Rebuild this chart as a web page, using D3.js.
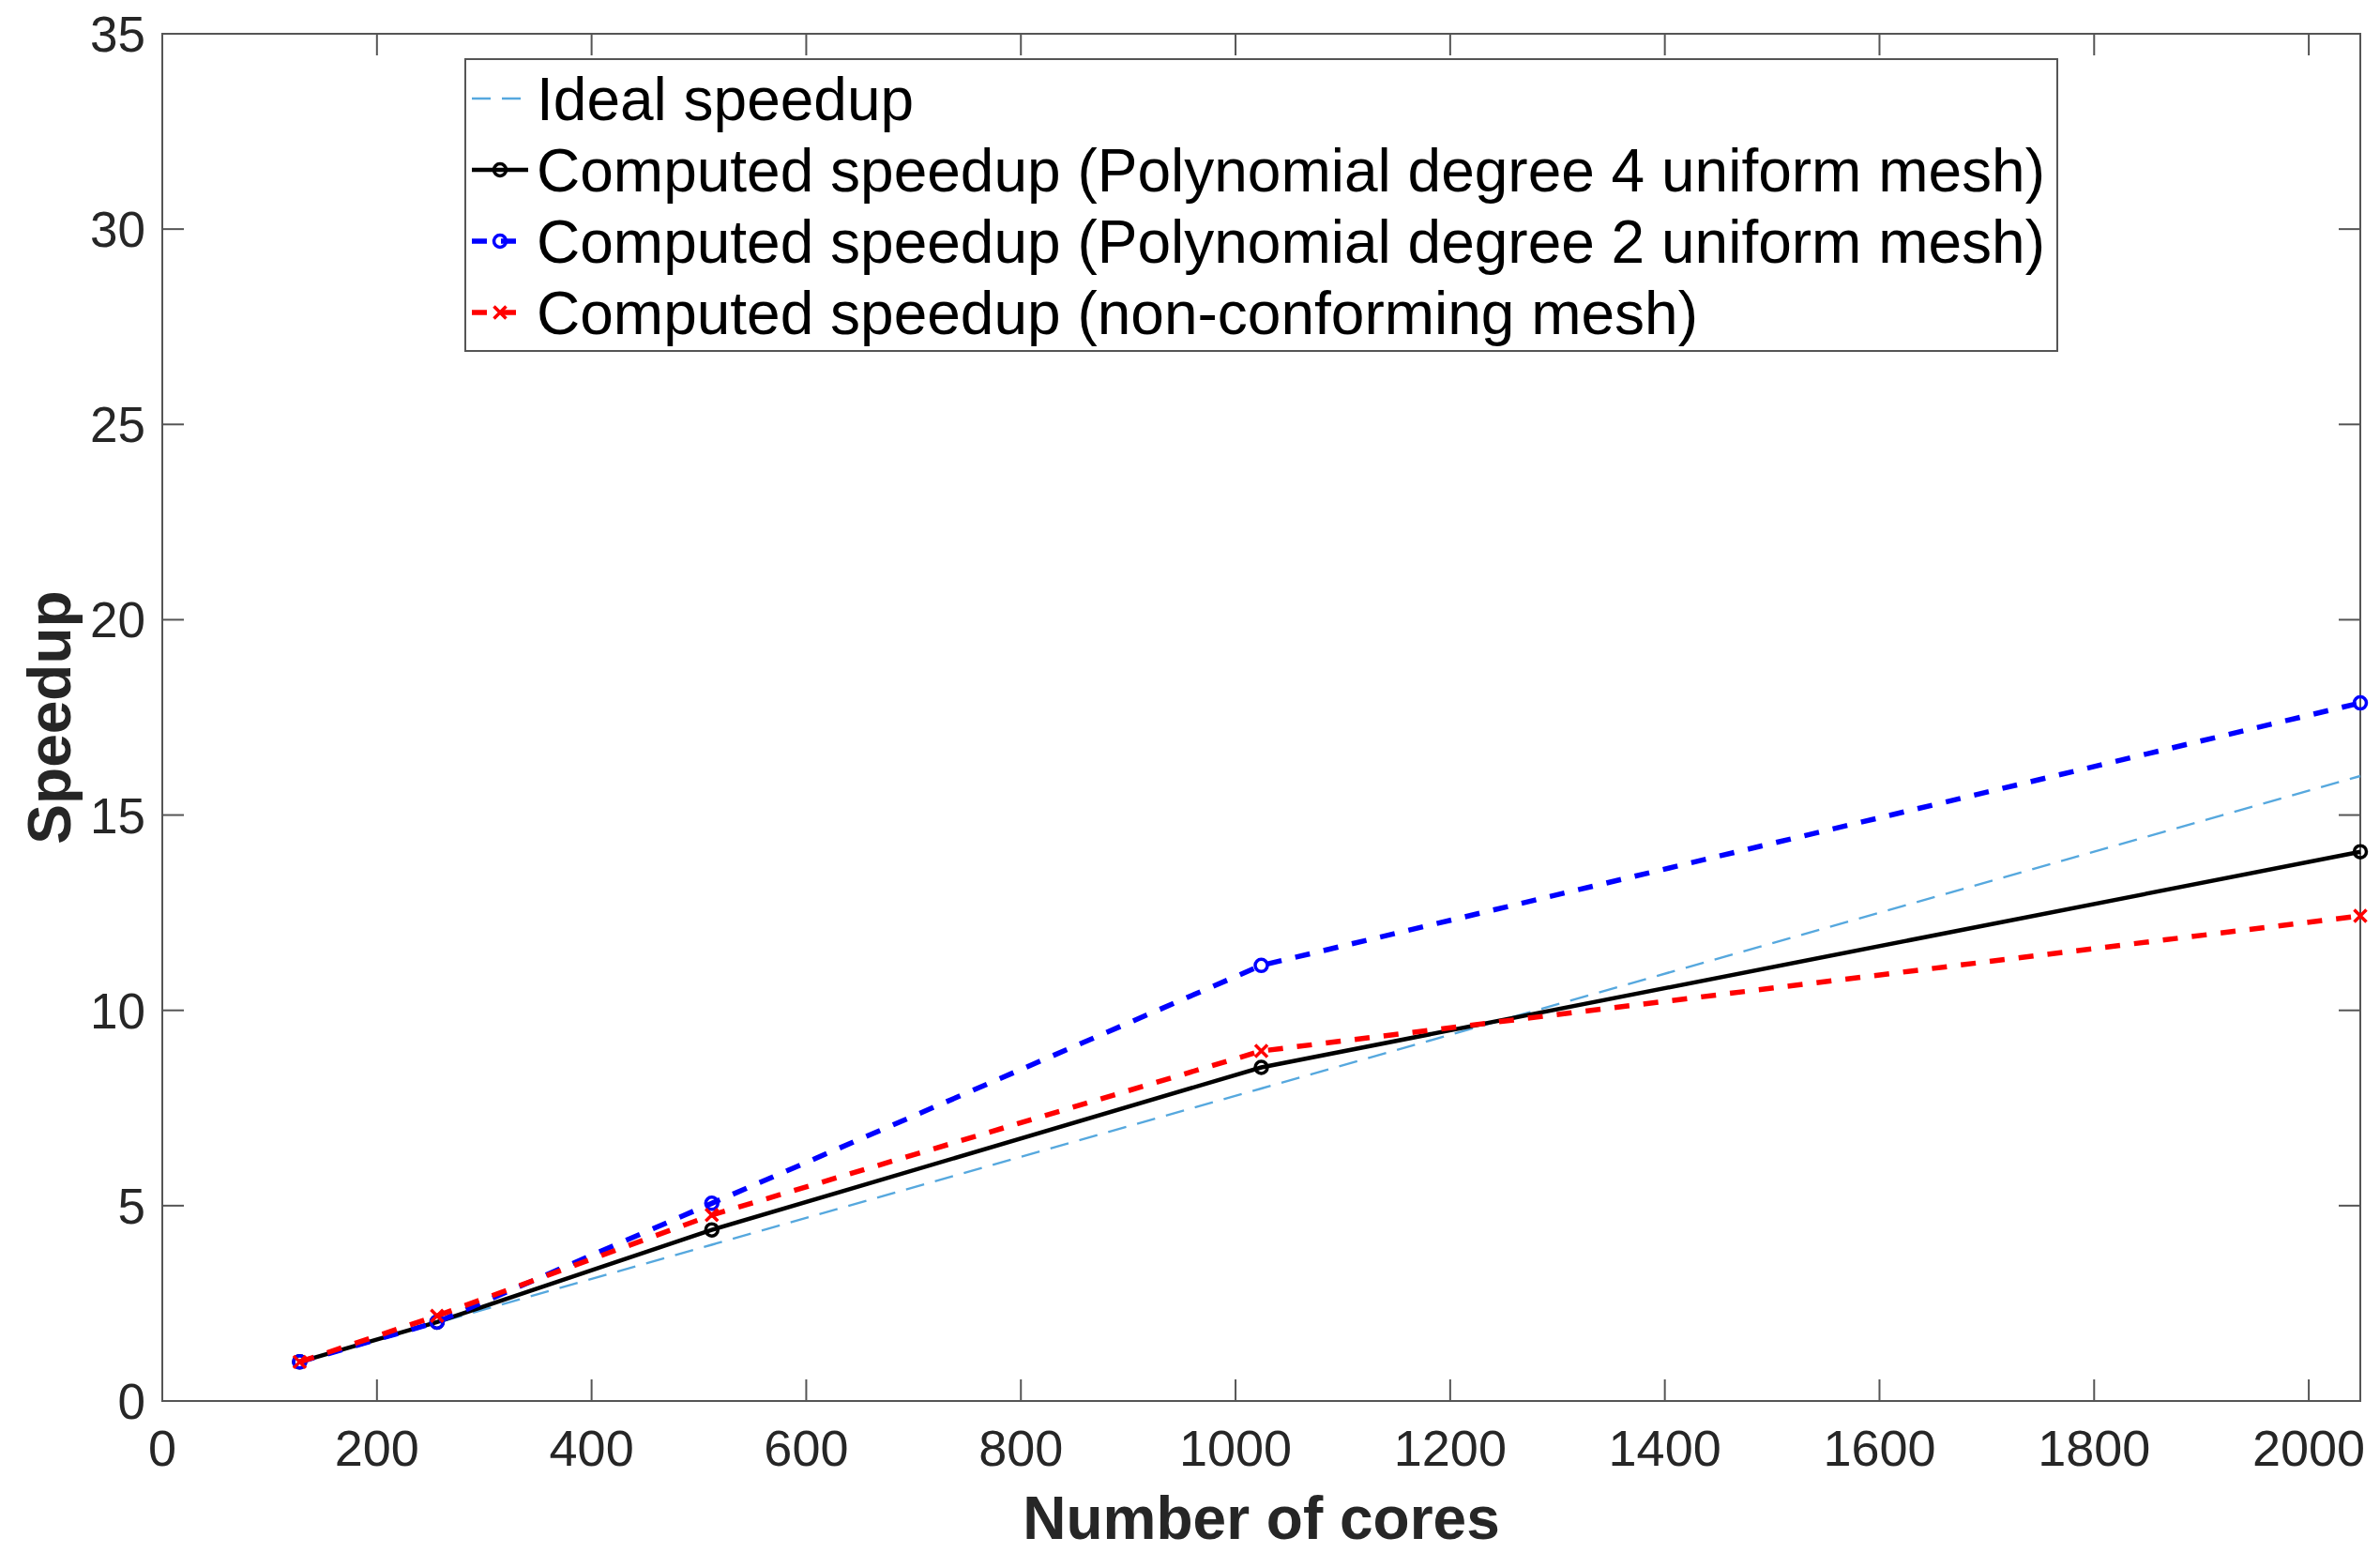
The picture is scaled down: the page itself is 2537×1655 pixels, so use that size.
<!DOCTYPE html>
<html lang="en">
<head>
    <meta charset="UTF-8">
    <title>Speedup</title>
    <script src="https://d3js.org/d3.v7.min.js"></script>
    <style>
        body { margin: 0; background: #fff; }
        svg { display: block; font-family: "Liberation Sans", Arial, Helvetica, sans-serif; }
    </style>
</head>
<body>
<svg id="chart" width="2537" height="1655"></svg>

<script>
    // data
    const cores = [128, 256, 512, 1024, 2048];
    const ideal = [1, 2, 4, 8, 16];
    const deg4 = [1, 2.02, 4.38, 8.54, 14.06];
    const deg2 = [1, 2.02, 5.06, 11.15, 17.87];
    const nonConf = [1, 2.18, 4.76, 8.96, 12.42];

    const xTicks = d3.range(0, 2001, 200);
    const yTicks = d3.range(0, 36, 5);

    const legendLabels = [
        "Ideal speedup",
        "Computed speedup (Polynomial degree 4 uniform mesh)",
        "Computed speedup (Polynomial degree 2 uniform mesh)",
        "Computed speedup (non-conforming mesh)"
    ];

    const series = [
        {values: ideal, color: "#56a8de", width: 2.5, dash: "20,12", marker: null},
        {values: deg4, color: "#000000", width: 4.5, dash: null, marker: "circle"},
        {values: deg2, color: "#0000ff", width: 5.5, dash: "16,15", marker: "circle"},
        {values: nonConf, color: "#ff0000", width: 5.5, dash: "16,15", marker: "cross"}
    ];

    const plotL = 173, plotR = 2516, plotT = 36, plotB = 1493;
    const tickLen = 23;
    const axisColor = "#555";
    const textColor = "#262626";

    const svg = d3.select("#chart");

    const x = d3.scaleLinear().domain([0, 2048]).range([plotL, plotR]);
    const y = d3.scaleLinear().domain([0, 35]).range([plotB, plotT]);

    // ticks, inside on all four sides
    const g = svg.append("g");
    xTicks.forEach(t => {
        g.append("line").attr("x1", x(t)).attr("x2", x(t)).attr("y1", plotB).attr("y2", plotB - tickLen)
            .attr("stroke", axisColor).attr("stroke-width", 2);
        g.append("line").attr("x1", x(t)).attr("x2", x(t)).attr("y1", plotT).attr("y2", plotT + tickLen)
            .attr("stroke", axisColor).attr("stroke-width", 2);
        g.append("text").attr("x", x(t)).attr("y", 1562).attr("text-anchor", "middle")
            .attr("font-size", 54).attr("fill", textColor).text(t);
    });
    yTicks.forEach(t => {
        g.append("line").attr("x1", plotL).attr("x2", plotL + tickLen).attr("y1", y(t)).attr("y2", y(t))
            .attr("stroke", axisColor).attr("stroke-width", 2);
        g.append("line").attr("x1", plotR).attr("x2", plotR - tickLen).attr("y1", y(t)).attr("y2", y(t))
            .attr("stroke", axisColor).attr("stroke-width", 2);
        g.append("text").attr("x", 155).attr("y", y(t) + 19).attr("text-anchor", "end")
            .attr("font-size", 53).attr("fill", textColor).text(t);
    });

    // box
    svg.append("rect").attr("x", plotL).attr("y", plotT).attr("width", plotR - plotL).attr("height", plotB - plotT)
        .attr("fill", "none").attr("stroke", axisColor).attr("stroke-width", 2);

    // axis labels
    svg.append("text").attr("x", (plotL + plotR) / 2).attr("y", 1640).attr("text-anchor", "middle")
        .attr("font-size", 64).attr("font-weight", "bold").attr("fill", textColor).text("Number of cores");
    svg.append("text").attr("transform", `translate(75,${(plotT + plotB) / 2}) rotate(-90)`)
        .attr("text-anchor", "middle").attr("font-size", 64).attr("font-weight", "bold")
        .attr("fill", textColor).text("Speedup");

    const line = d3.line().x((d, i) => x(cores[i])).y(d => y(d));

    function drawMarker(sel, type, cx, cy, color) {
        if (type === "circle") {
            sel.append("circle").attr("cx", cx).attr("cy", cy).attr("r", 6.5)
                .attr("fill", "none").attr("stroke", color).attr("stroke-width", 3.5);
        } else if (type === "cross") {
            const s = 6.5;
            sel.append("path").attr("d", `M${cx - s},${cy - s}L${cx + s},${cy + s}M${cx - s},${cy + s}L${cx + s},${cy - s}`)
                .attr("stroke", color).attr("stroke-width", 3.5);
        }
    }

    series.forEach(s => {
        svg.append("path").datum(s.values).attr("d", line).attr("fill", "none")
            .attr("stroke", s.color).attr("stroke-width", s.width)
            .attr("stroke-dasharray", s.dash);
        if (s.marker) {
            const mg = svg.append("g");
            s.values.forEach((v, i) => drawMarker(mg, s.marker, x(cores[i]), y(v), s.color));
        }
    });

    // legend
    const lg = svg.append("g");
    lg.append("rect").attr("x", 496).attr("y", 63).attr("width", 1697).attr("height", 311)
        .attr("fill", "#fff").attr("stroke", axisColor).attr("stroke-width", 2);
    legendLabels.forEach((label, i) => {
        const s = series[i];
        const cy = 105 + i * 76;
        lg.append("line").attr("x1", 503).attr("x2", 563).attr("y1", cy).attr("y2", cy)
            .attr("stroke", s.color).attr("stroke-width", s.width).attr("stroke-dasharray", s.dash);
        if (s.marker) drawMarker(lg, s.marker, 533, cy, s.color);
        lg.append("text").attr("x", 572).attr("y", cy + 23).attr("font-size", 64)
            .attr("fill", "#000").text(label);
    });
</script>
</body>
</html>
